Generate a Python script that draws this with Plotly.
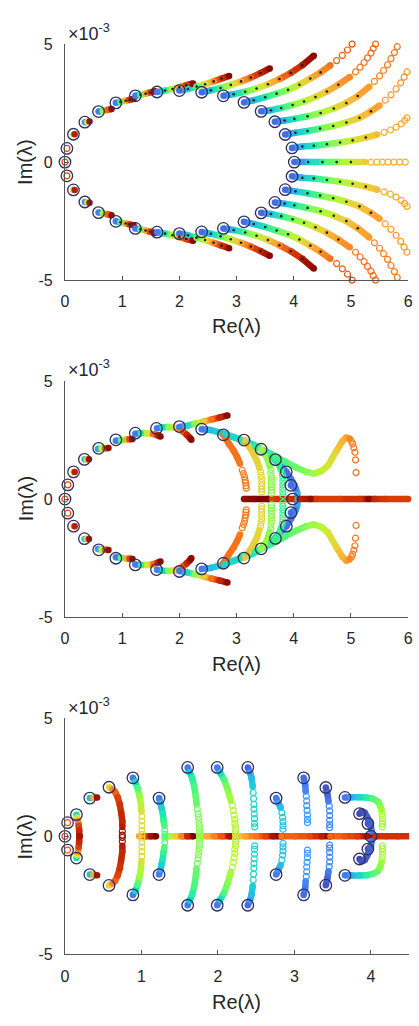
import plotly.graph_objects as go
from plotly.colors import sample_colorscale

# ---------------- DATA (upper half; conjugates are added by mirroring) ----------------
# Panel 1 starting eigenvalues (Re, Im*1e3)
P1_START_RE = [0, 0.034, 0.148, 0.348, 0.587, 0.89, 1.23, 1.61, 2.00, 2.39, 2.77, 3.13, 3.43, 3.67, 3.85, 3.97, 4.01]
P1_START_IM = [0, 0.58, 1.18, 1.69, 2.14, 2.51, 2.81, 2.97, 3.03, 2.96, 2.81, 2.53, 2.15, 1.71, 1.17, 0.60, 0]

# Panel 1 trajectories: (Re, Im, colour value along path)
P1_T1 = [(0, 0, 0.85)]
P1_T2 = [(0.034, 0.58, 0.85)]
P1_T3 = [(0.148, 1.18, 0.5), (0.17, 1.18, 0.92)]
P1_T4 = [(0.348, 1.69, 0.25), (0.39, 1.70, 0.6), (0.43, 1.72, 0.95)]
P1_T5 = [(0.587, 2.14, 0.2), (0.66, 2.17, 0.5), (0.74, 2.21, 0.8), (0.815, 2.25, 0.97)]
P1_T6 = [(0.89, 2.51, 0.2), (0.97, 2.55, 0.45), (1.06, 2.60, 0.7), (1.13, 2.64, 0.88), (1.20, 2.68, 0.97)]
P1_T7 = [(1.23, 2.81, 0.2), (1.32, 2.85, 0.45), (1.41, 2.90, 0.7), (1.49, 2.95, 0.85), (1.57, 3.0, 0.97)]
P1_T8 = [(1.61, 2.97, 0.2), (1.75, 3.03, 0.4), (1.88, 3.10, 0.55), (2.0, 3.18, 0.7), (2.12, 3.26, 0.85), (2.24, 3.33, 0.98)]
P1_T9 = [(2.00, 3.03, 0.18), (2.15, 3.10, 0.32), (2.30, 3.20, 0.45), (2.45, 3.30, 0.6), (2.60, 3.42, 0.75),
         (2.74, 3.54, 0.88), (2.87, 3.65, 0.98)]
P1_T10 = [(2.39, 2.96, 0.18), (2.55, 3.04, 0.32), (2.72, 3.14, 0.45), (2.90, 3.27, 0.58), (3.08, 3.42, 0.7),
          (3.25, 3.58, 0.8), (3.42, 3.77, 0.9), (3.58, 3.97, 0.98)]
P1_T11 = [(2.77, 2.81, 0.18), (2.95, 2.88, 0.32), (3.15, 2.98, 0.45), (3.35, 3.12, 0.55), (3.55, 3.30, 0.65),
          (3.75, 3.52, 0.75), (3.95, 3.78, 0.85), (4.15, 4.10, 0.93), (4.35, 4.51, 0.98)]
P1_T12 = [(3.13, 2.53, 0.18), (3.30, 2.62, 0.3), (3.50, 2.75, 0.38), (3.70, 2.90, 0.45), (3.90, 3.06, 0.52),
          (4.10, 3.28, 0.6), (4.29, 3.54, 0.68), (4.47, 3.80, 0.74), (4.64, 4.10, 0.78), (4.75, 4.30, 0.8),
          (4.85, 4.52, 0.81), (4.94, 4.75, 0.82), (5.02, 5.0, 0.83)]
P1_T13 = [(3.43, 2.15, 0.18), (3.60, 2.20, 0.3), (3.78, 2.29, 0.4), (3.98, 2.42, 0.48), (4.18, 2.57, 0.55),
          (4.38, 2.76, 0.62), (4.58, 2.99, 0.68), (4.78, 3.28, 0.72), (4.98, 3.61, 0.75), (5.08, 3.82, 0.77),
          (5.16, 4.02, 0.78), (5.23, 4.22, 0.78), (5.29, 4.42, 0.79), (5.35, 4.62, 0.79), (5.39, 4.81, 0.79),
          (5.43, 5.0, 0.8)]
P1_T14 = [(3.67, 1.71, 0.18), (3.84, 1.76, 0.3), (4.01, 1.83, 0.38), (4.24, 1.94, 0.46), (4.47, 2.08, 0.53),
          (4.70, 2.27, 0.6), (4.92, 2.50, 0.66), (5.12, 2.80, 0.7), (5.32, 3.19, 0.73), (5.41, 3.42, 0.75),
          (5.50, 3.65, 0.76), (5.57, 3.88, 0.76), (5.64, 4.12, 0.77), (5.70, 4.38, 0.77), (5.76, 4.64, 0.77),
          (5.81, 4.89, 0.78)]
P1_T15 = [(3.85, 1.17, 0.18), (4.03, 1.24, 0.3), (4.24, 1.32, 0.38), (4.46, 1.42, 0.46), (4.69, 1.53, 0.53),
          (4.92, 1.68, 0.6), (5.15, 1.875, 0.66), (5.35, 2.15, 0.7), (5.50, 2.40, 0.72), (5.60, 2.62, 0.73),
          (5.70, 2.85, 0.73), (5.79, 3.10, 0.74), (5.87, 3.36, 0.74), (5.93, 3.60, 0.74), (5.98, 3.82, 0.74)]
P1_T16 = [(3.97, 0.60, 0.18), (4.15, 0.66, 0.3), (4.35, 0.69, 0.38), (4.58, 0.76, 0.46), (4.81, 0.83, 0.53),
          (5.03, 0.92, 0.6), (5.26, 1.04, 0.65), (5.46, 1.17, 0.68), (5.58, 1.26, 0.7), (5.69, 1.36, 0.7),
          (5.79, 1.48, 0.71), (5.88, 1.62, 0.71), (5.94, 1.76, 0.71), (5.98, 1.875, 0.71)]
P1_T17 = [(4.01, 0, 0.18), (4.25, 0, 0.32), (4.5, 0, 0.42), (4.75, 0, 0.5), (5.0, 0, 0.58), (5.25, 0, 0.65),
          (5.35, 0, 0.68), (5.45, 0, 0.69), (5.55, 0, 0.7), (5.65, 0, 0.7), (5.75, 0, 0.7), (5.85, 0, 0.7),
          (5.95, 0, 0.7)]

# Panel 2
P2_START_RE = [0, 0.05, 0.15, 0.34, 0.59, 0.89, 1.23, 1.60, 2.00, 2.39, 2.77, 3.13, 3.43, 3.68, 3.87, 3.95, 3.98]
P2_START_IM = [0, 0.60, 1.15, 1.68, 2.15, 2.51, 2.79, 2.99, 3.07, 2.96, 2.72, 2.50, 2.11, 1.67, 1.15, 0.58, 0]

P2_T1 = [(0, 0, 0.85)]
P2_T2 = [(0.05, 0.60, 0.85)]
P2_T3 = [(0.15, 1.15, 0.6), (0.17, 1.15, 0.92)]
P2_T4 = [(0.343, 1.69, 0.3), (0.38, 1.69, 0.65), (0.42, 1.69, 0.95)]
P2_T5 = [(0.576, 2.12, 0.25), (0.64, 2.14, 0.55), (0.70, 2.15, 0.8), (0.76, 2.16, 0.97)]
P2_T6 = [(0.89, 2.47, 0.2), (0.98, 2.49, 0.45), (1.07, 2.52, 0.7), (1.13, 2.53, 0.85), (1.18, 2.54, 0.97)]
P2_T7 = [(1.23, 2.77, 0.2), (1.33, 2.79, 0.4), (1.44, 2.79, 0.6), (1.54, 2.76, 0.78), (1.62, 2.70, 0.9),
         (1.67, 2.65, 0.98)]
P2_T8 = [(1.61, 3.00, 0.2), (1.71, 3.04, 0.35), (1.81, 3.05, 0.5), (1.91, 3.02, 0.62), (1.99, 2.96, 0.72),
         (2.07, 2.85, 0.82), (2.13, 2.72, 0.9), (2.18, 2.60, 0.95), (2.21, 2.51, 0.98)]
P2_T9 = [(2.00, 3.05, 0.2), (2.14, 3.11, 0.35), (2.27, 3.19, 0.5), (2.42, 3.28, 0.65), (2.56, 3.37, 0.78),
         (2.70, 3.45, 0.9), (2.84, 3.54, 0.98)]
P2_T10 = [(2.39, 2.96, 0.2), (2.55, 2.92, 0.3), (2.80, 2.76, 0.34), (3.05, 2.52, 0.37), (3.33, 2.22, 0.4),
          (3.60, 1.92, 0.42), (3.85, 1.58, 0.44), (4.05, 1.33, 0.47), (4.22, 1.15, 0.5), (4.35, 1.08, 0.52),
          (4.48, 1.18, 0.56), (4.60, 1.42, 0.6), (4.75, 2.05, 0.65), (4.85, 2.45, 0.69), (4.92, 2.61, 0.72),
          (4.98, 2.55, 0.75), (5.01, 2.45, 0.76), (5.03, 2.33, 0.77), (5.05, 2.17, 0.77), (5.07, 1.98, 0.78),
          (5.08, 1.66, 0.78), (5.09, 1.12, 0.78)]
P2_T11 = [(2.77, 2.72, 0.3), (2.95, 2.62, 0.34), (3.13, 2.47, 0.36), (3.30, 2.30, 0.36), (3.43, 2.10, 0.34),
          (3.57, 1.88, 0.3), (3.68, 1.64, 0.26), (3.78, 1.40, 0.22), (3.87, 1.15, 0.18), (3.95, 0.85, 0.2),
          (4.02, 0.55, 0.24), (4.06, 0.28, 0.27), (4.07, 0.0, 0.28)]
P2_T12 = [(2.77, 2.72, 0.78), (2.87, 2.33, 0.78), (2.95, 2.05, 0.78), (3.01, 1.78, 0.78), (3.06, 1.50, 0.77),
          (3.10, 1.22, 0.77), (3.12, 1.08, 0.77), (3.14, 0.94, 0.77), (3.15, 0.80, 0.77), (3.16, 0.68, 0.77),
          (3.165, 0.56, 0.77), (3.17, 0.46, 0.77)]
P2_T13 = [(3.13, 2.50, 0.66), (3.22, 2.22, 0.66), (3.30, 1.91, 0.65), (3.36, 1.60, 0.64), (3.40, 1.30, 0.63),
          (3.42, 1.15, 0.63), (3.43, 1.0, 0.63), (3.44, 0.85, 0.63), (3.44, 0.70, 0.63), (3.44, 0.56, 0.63),
          (3.44, 0.42, 0.63), (3.44, 0.30, 0.63)]
P2_T14 = [(3.43, 2.11, 0.52), (3.50, 1.88, 0.52), (3.55, 1.64, 0.51), (3.58, 1.40, 0.5), (3.60, 1.25, 0.5),
          (3.60, 1.10, 0.5), (3.61, 0.95, 0.5), (3.61, 0.80, 0.5), (3.61, 0.65, 0.5), (3.61, 0.50, 0.5),
          (3.61, 0.37, 0.5), (3.61, 0.25, 0.5)]
P2_T15 = [(3.68, 1.67, 0.42), (3.74, 1.45, 0.42), (3.78, 1.22, 0.42), (3.80, 1.05, 0.42), (3.81, 0.90, 0.42),
          (3.81, 0.75, 0.42), (3.81, 0.60, 0.42), (3.81, 0.45, 0.42), (3.81, 0.30, 0.42), (3.81, 0.15, 0.42)]
P2_T16 = [(3.95, 0.58, 0.18), (4.03, 0.45, 0.2)]
P2_AXIS = [(3.13, 0, 0.97), (3.30, 0, 0.98), (3.55, 0, 1.0), (3.62, 0, 0.86), (3.90, 0, 0.88), (4.10, 0, 0.92),
           (4.30, 0, 0.97), (4.40, 0, 0.87), (4.80, 0, 0.86), (5.15, 0, 0.88), (5.30, 0, 0.98), (5.42, 0, 0.9),
           (5.60, 0, 0.87), (6.0, 0, 0.86)]

# Panel 3
P3_START_RE = [0, 0.034, 0.15, 0.325, 0.576, 0.888, 1.23, 1.604, 1.99, 2.39, 2.76, 3.12, 3.41, 3.66, 3.85, 3.96, 4.0]
P3_START_IM = [0, 0.58, 0.92, 1.62, 2.08, 2.48, 1.62, 2.92, 2.92, 2.92, 1.62, 2.48, 2.07, 1.65, 0.96, 0.54, 0]

P3_T1 = [(0, 0, 0.85)]
P3_T2 = [(0.034, 0.58, 0.82)]
P3_T3 = [(0.15, 0.92, 0.35), (0.16, 0.80, 0.6), (0.17, 0.65, 0.75), (0.18, 0.45, 0.85), (0.185, 0.25, 0.9),
         (0.19, 0.0, 0.95)]
P3_T4 = [(0.325, 1.62, 0.3), (0.37, 1.63, 0.7), (0.42, 1.65, 0.95)]
P3_T5 = [(0.576, 2.08, 0.62), (0.62, 2.0, 0.75), (0.653, 1.90, 0.8), (0.69, 1.65, 0.85), (0.717, 1.35, 0.88),
         (0.735, 1.0, 0.9), (0.75, 0.65, 0.9), (0.75, 0.40, 0.92), (0.75, 0.22, 0.95), (0.75, 0.05, 0.97)]
P3_T6 = [(0.888, 2.48, 0.2), (0.92, 2.30, 0.35), (0.95, 2.04, 0.45), (0.975, 1.70, 0.52), (0.994, 1.35, 0.56),
         (1.0, 1.05, 0.6), (1.005, 0.85, 0.62), (1.006, 0.65, 0.62), (1.006, 0.45, 0.62), (1.006, 0.25, 0.62),
         (1.006, 0.08, 0.62)]
P3_T7 = [(1.23, 1.62, 0.2), (1.25, 1.40, 0.28), (1.26, 1.21, 0.33), (1.28, 0.95, 0.38), (1.29, 0.65, 0.42),
         (1.30, 0.45, 0.44), (1.305, 0.25, 0.45), (1.305, 0.08, 0.45)]
P3_T8 = [(1.604, 2.92, 0.2), (1.63, 2.72, 0.32), (1.664, 2.46, 0.4), (1.69, 2.10, 0.44), (1.71, 1.70, 0.46),
         (1.72, 1.35, 0.47), (1.73, 1.15, 0.48), (1.74, 0.95, 0.48), (1.745, 0.80, 0.49), (1.75, 0.65, 0.5),
         (1.755, 0.50, 0.5), (1.76, 0.35, 0.5), (1.76, 0.20, 0.5), (1.76, 0.06, 0.5)]
P3_T9 = [(1.99, 2.92, 0.2), (2.03, 2.68, 0.35), (2.08, 2.40, 0.44), (2.13, 1.95, 0.5), (2.17, 1.50, 0.53),
         (2.19, 1.30, 0.55), (2.20, 1.10, 0.56), (2.21, 0.90, 0.56), (2.22, 0.72, 0.56), (2.22, 0.55, 0.56),
         (2.23, 0.40, 0.56), (2.23, 0.25, 0.56), (2.23, 0.10, 0.56)]
P3_T10 = [(2.39, 2.92, 0.18), (2.42, 2.70, 0.25), (2.44, 2.46, 0.3), (2.455, 2.10, 0.32), (2.46, 1.85, 0.34),
          (2.465, 1.60, 0.34), (2.47, 1.35, 0.34), (2.47, 1.15, 0.34), (2.475, 0.95, 0.34), (2.478, 0.75, 0.34),
          (2.478, 0.55, 0.34), (2.48, 0.40, 0.34)]
P3_T11 = [(2.76, 1.62, 0.2), (2.79, 1.42, 0.25), (2.82, 1.21, 0.3), (2.835, 1.0, 0.3), (2.845, 0.80, 0.3),
          (2.85, 0.62, 0.3), (2.85, 0.45, 0.3), (2.85, 0.30, 0.3)]
P3_T12 = [(3.12, 2.48, 0.18), (3.14, 2.20, 0.2), (3.147, 1.90, 0.22), (3.155, 1.70, 0.25), (3.16, 1.50, 0.25),
          (3.16, 1.30, 0.25), (3.165, 1.10, 0.25), (3.17, 0.90, 0.25), (3.17, 0.72, 0.25), (3.17, 0.58, 0.25)]
P3_T13 = [(3.41, 2.07, 0.15), (3.43, 1.80, 0.17), (3.445, 1.48, 0.2), (3.455, 1.28, 0.22), (3.46, 1.08, 0.22),
          (3.46, 0.88, 0.22), (3.46, 0.68, 0.22), (3.46, 0.50, 0.22), (3.46, 0.37, 0.22)]
P3_T14 = [(3.66, 1.65, 0.2), (3.75, 1.66, 0.28), (3.85, 1.66, 0.34), (3.94, 1.65, 0.4), (4.02, 1.60, 0.44),
          (4.09, 1.48, 0.47), (4.12, 1.30, 0.5), (4.14, 1.10, 0.52), (4.145, 0.95, 0.53), (4.15, 0.80, 0.53),
          (4.15, 0.65, 0.53), (4.15, 0.52, 0.53), (4.15, 0.40, 0.53)]
P3_T15 = [(3.85, 0.96, 0.13), (3.88, 1.06, 0.14), (3.92, 1.0, 0.15), (3.95, 0.82, 0.16), (3.98, 0.62, 0.17),
          (4.0, 0.40, 0.18), (4.01, 0.2, 0.2)]
P3_T16 = [(3.96, 0.54, 0.15), (3.99, 0.45, 0.16)]
P3_H1 = [(0.97, 0, 0.72), (1.05, 0, 0.85), (1.12, 0, 0.95), (1.19, 0, 1.0)]
P3_H2 = [(1.31, 0, 0.45), (1.38, 0, 0.55), (1.45, 0, 0.65), (1.52, 0, 0.76), (1.60, 0, 0.9), (1.68, 0, 1.0)]
P3_H3 = [(1.76, 0, 0.6), (1.85, 0, 0.7), (1.95, 0, 0.76), (2.05, 0, 0.82), (2.15, 0, 0.95), (2.23, 0, 1.0)]
P3_H4 = [(2.23, 0, 0.65), (2.36, 0, 0.72), (2.5, 0, 0.78), (2.62, 0, 0.85), (2.72, 0, 0.95), (2.83, 0, 1.0)]
P3_H5 = [(2.83, 0, 0.78), (3.0, 0, 0.8), (3.2, 0, 0.84), (3.35, 0, 0.92), (3.47, 0, 1.0)]
P3_H6 = [(3.47, 0, 0.8), (3.65, 0, 0.82), (3.82, 0, 0.86), (3.94, 0, 0.95), (4.06, 0, 1.0)]
P3_H7 = [(4.06, 0, 0.88), (4.2, 0, 0.88), (4.35, 0, 0.88), (4.51, 0, 0.88)]

X_TICKS_1 = [0, 1, 2, 3, 4, 5, 6]
X_TICKS_3 = [0, 1, 2, 3, 4]
Y_TICKS = [-5, 0, 5]

# ---------------- STYLE (index where each trajectory turns into sparse rings) ----------------
P1_TRAILS = [(P1_T1, 0), (P1_T2, 0), (P1_T3, None), (P1_T4, None), (P1_T5, None), (P1_T6, None), (P1_T7, None),
             (P1_T8, None), (P1_T9, None), (P1_T10, None), (P1_T11, None), (P1_T12, 9), (P1_T13, 9),
             (P1_T14, 9), (P1_T15, 9), (P1_T16, 8), (P1_T17, 6)]
P2_TRAILS = [(P2_T1, 0), (P2_T2, 0), (P2_T3, None), (P2_T4, None), (P2_T5, None), (P2_T6, None), (P2_T7, None),
             (P2_T8, None), (P2_T9, None), (P2_T11, None), (P2_T12, 5), (P2_T13, 5), (P2_T14, 4),
             (P2_T15, 3), (P2_T16, None), (P2_T10, 16), (P2_AXIS, None)]
P3_TRAILS = [(P3_T1, 0), (P3_T2, 0), (P3_T3, None), (P3_T4, None), (P3_T5, 8), (P3_T6, 6), (P3_T7, 6),
             (P3_T8, 6), (P3_T9, 5), (P3_T10, 4), (P3_T11, 3), (P3_T12, 3), (P3_T13, 3), (P3_T14, 8),
             (P3_T15, None), (P3_T16, None),
             (P3_H1, None), (P3_H2, None), (P3_H3, None), (P3_H4, None), (P3_H5, None), (P3_H6, None),
             (P3_H7, None)]

BAND_W = 6.5
RING_SIZE = 6
START_COLOR = "#2f2f5a"
AXIS_COLOR = "#555555"
TEXT_COLOR = "#262626"
FONT = "Liberation Sans, Arial, sans-serif"


def col(v):
    v = v - 0.06 * (1 - v)
    return sample_colorscale("Turbo", [min(max(v, 0.0), 1.0)])[0]


def with_conjugates(trails):
    out = []
    for pts, op in trails:
        out.append((pts, op))
        if any(p[1] != 0 for p in pts):
            out.append(([(x, -y, c) for x, y, c in pts], op))
    return out


def panel_traces(trails, start_re, start_im, xa, ya, dots=False):
    traces = []
    groups = {}
    fx, fy, fc = [], [], []
    rx, ry, rc = [], [], []
    bx, by = [], []
    for pts, op in with_conjugates(trails):
        n = len(pts)
        o = n if op is None else op
        for i in range(max(o - 1, 0)):
            key = round((pts[i][2] + pts[i + 1][2]) / 2 * 50) / 50
            gx, gy = groups.setdefault(key, ([], []))
            gx += [pts[i][0], pts[i + 1][0], None]
            gy += [pts[i][1], pts[i + 1][1], None]
        for i in range(o):
            fx.append(pts[i][0]); fy.append(pts[i][1]); fc.append(col(pts[i][2]))
            if dots and 0 < i < o - 1 and n > 4:
                bx.append(pts[i][0]); by.append(pts[i][1])
        for i in range(o, n):
            rx.append(pts[i][0]); ry.append(pts[i][1]); rc.append(col(pts[i][2]))
    for key in sorted(groups):
        gx, gy = groups[key]
        traces.append(go.Scatter(x=gx, y=gy, mode="lines", xaxis=xa, yaxis=ya, hoverinfo="skip",
                                 line=dict(color=col(key), width=BAND_W), cliponaxis=False, showlegend=False))
    traces.append(go.Scatter(x=fx, y=fy, mode="markers", xaxis=xa, yaxis=ya, cliponaxis=False, showlegend=False,
                             marker=dict(color=fc, size=BAND_W, line=dict(width=0))))
    traces.append(go.Scatter(x=rx, y=ry, mode="markers", xaxis=xa, yaxis=ya, cliponaxis=False, showlegend=False,
                             marker=dict(symbol="circle-open", color=rc, size=RING_SIZE, line=dict(width=1.2))))
    if dots:
        traces.append(go.Scatter(x=bx, y=by, mode="markers", xaxis=xa, yaxis=ya, cliponaxis=False,
                                 showlegend=False, marker=dict(color="#202020", size=2.6)))
    sx = list(start_re) + [x for x, y in zip(start_re, start_im) if y != 0]
    sy = list(start_im) + [-y for y in start_im if y != 0]
    traces.append(go.Scatter(x=sx, y=sy, mode="markers", xaxis=xa, yaxis=ya, cliponaxis=False, showlegend=False,
                             marker=dict(symbol="circle-open", color=START_COLOR, size=11.5, line=dict(width=1.3))))
    return traces


fig = go.Figure()
for t in panel_traces(P1_TRAILS, P1_START_RE, P1_START_IM, "x", "y", dots=True):
    fig.add_trace(t)
for t in panel_traces(P2_TRAILS, P2_START_RE, P2_START_IM, "x2", "y2"):
    fig.add_trace(t)
for t in panel_traces(P3_TRAILS, P3_START_RE, P3_START_IM, "x3", "y3"):
    fig.add_trace(t)

W, H = 419, 1026


def px_x(p):
    return p / W


def px_y(p):
    return 1 - p / H


def xaxis(domain, rng, ticks, anchor):
    return dict(domain=domain, range=rng, anchor=anchor, tickvals=ticks, ticktext=[str(v) for v in ticks],
                showline=True, linecolor=AXIS_COLOR, linewidth=1, ticks="inside", ticklen=4,
                tickcolor=AXIS_COLOR, showgrid=False, zeroline=False, ticklabeloverflow="allow",
                tickfont=dict(size=16, color=TEXT_COLOR, family=FONT), ticklabelstandoff=7, fixedrange=True)


def yaxis(domain, anchor):
    return dict(domain=domain, range=[-5, 5], anchor=anchor, tickvals=Y_TICKS,
                ticktext=[str(v) for v in Y_TICKS], showline=True, linecolor=AXIS_COLOR, linewidth=1,
                ticks="inside", ticklen=4, tickcolor=AXIS_COLOR, showgrid=False, zeroline=False,
                ticklabeloverflow="allow",
                tickfont=dict(size=16, color=TEXT_COLOR, family=FONT), ticklabelstandoff=8, fixedrange=True)


XD12 = [px_x(62.3), px_x(413.0)]
XD3 = [px_x(62.3), px_x(414.1)]
panels = [  # (top px, bottom px, x label px, y label centre px, x10 px)
    (36.7, 276.7, 323, 157, 25),
    (379.3, 619.3, 667, 499, 367),
    (722.3, 962.3, 1011, 843, 710),
]

annotations = []
for top, bot, xl, yl, xt in panels:
    annotations.append(dict(text="Re(λ)", x=px_x(238), y=px_y(xl), xref="paper", yref="paper",
                            xanchor="center", yanchor="middle",
                            showarrow=False, font=dict(size=20, color=TEXT_COLOR, family=FONT)))
    annotations.append(dict(text="Im(λ)", x=px_x(22), y=px_y(yl), xref="paper", yref="paper", textangle=-90,
                            xanchor="center", yanchor="middle",
                            showarrow=False, font=dict(size=20, color=TEXT_COLOR, family=FONT)))
    annotations.append(dict(text="×10<sup>-3</sup>", x=px_x(63), y=px_y(xt), xref="paper", yref="paper",
                            xanchor="left", yanchor="middle", showarrow=False,
                            font=dict(size=18, color=TEXT_COLOR, family=FONT)))

fig.update_layout(
    width=W, height=H, margin=dict(l=0, r=0, t=0, b=0),
    paper_bgcolor="white", plot_bgcolor="white", showlegend=False,
    xaxis=xaxis(XD12, [0, 6], X_TICKS_1, "y"),
    yaxis=yaxis([px_y(panels[0][1]), px_y(panels[0][0])], "x"),
    xaxis2=xaxis(XD12, [0, 6], X_TICKS_1, "y2"),
    yaxis2=yaxis([px_y(panels[1][1]), px_y(panels[1][0])], "x2"),
    xaxis3=xaxis(XD3, [0, 4.5], X_TICKS_3, "y3"),
    yaxis3=yaxis([px_y(panels[2][1]), px_y(panels[2][0])], "x3"),
    annotations=annotations,
)

fig.write_html("out.html", config={"displayModeBar": False},
               post_script="document.body.style.margin='0';document.body.style.overflow='hidden';")
